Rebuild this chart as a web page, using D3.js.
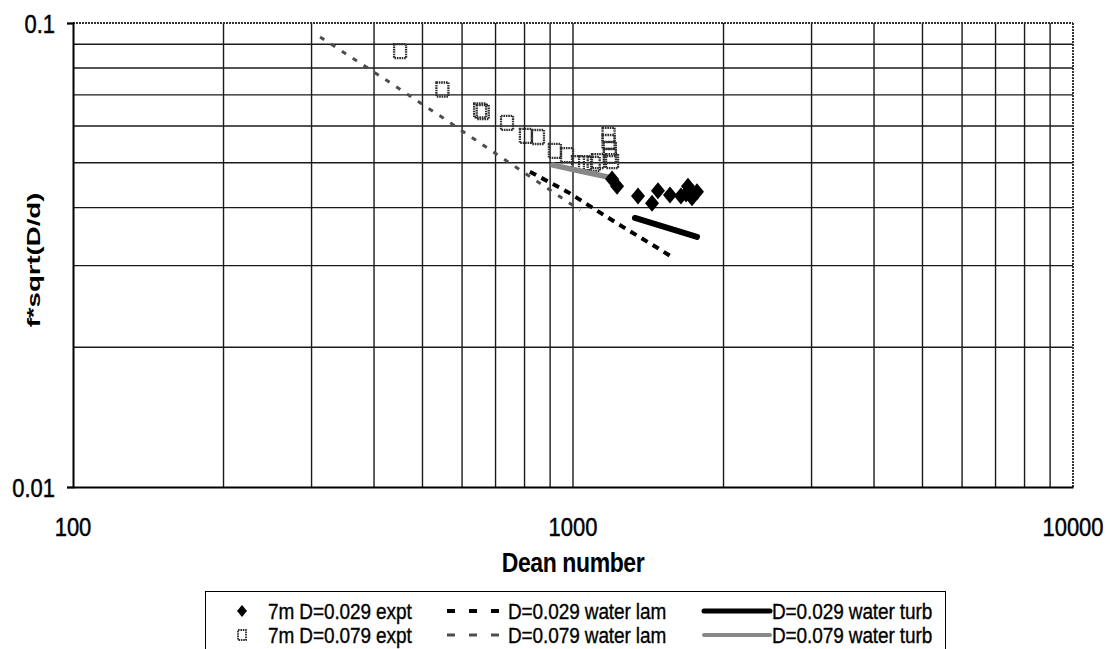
<!DOCTYPE html>
<html>
<head>
<meta charset="utf-8">
<script src="https://cdn.jsdelivr.net/npm/d3@7"></script>
<style>
  html, body { margin: 0; padding: 0; background: #fff; }
  svg { display: block; font-family: "Liberation Sans", Arial, sans-serif; }
</style>
</head>
<body>
<svg id="chart" width="1114" height="649"></svg>
<script>
// Experimental runs, D = 0.029 (filled diamonds)
const dean029Expt = [1197, 1225, 1349, 1439, 1479, 1563, 1644, 1683, 1698, 1730, 1770];
const f029Expt    = [0.0461, 0.0445, 0.0424, 0.0409, 0.0435, 0.0426, 0.0424, 0.0428, 0.0445, 0.0420, 0.0433];

// Experimental runs, D = 0.079 (open squares)
const dean079Expt = [451, 548, 652, 660, 738, 805, 851, 920, 973, 1023, 1057, 1100, 1122, 1178, 1178, 1185, 1185, 1197];
const f079Expt    = [0.0870, 0.0719, 0.0648, 0.0643, 0.0609, 0.0571, 0.0568, 0.0530, 0.0519, 0.0499, 0.0499, 0.0497, 0.0504, 0.0574, 0.0554, 0.0535, 0.0517, 0.0504];

// Water, laminar correlations
const dean029Lam = [820, 977, 1230, 1466, 1563];
const f029Lam    = [0.0478, 0.0432, 0.0369, 0.0329, 0.0315];
const dean079Lam = [312, 417, 550, 708, 1033];
const f079Lam    = [0.0933, 0.0761, 0.0624, 0.0519, 0.0395];

// Water, turbulent correlations
const dean029Turb = [1330, 1770];
const f029Turb    = [0.0380, 0.0346];
const dean079Turb = [912, 1050, 1202];
const f079Turb    = [0.0494, 0.0478, 0.0463];

// Axis ticks and grid
const xTickLabels = [100, 1000, 10000];
const yTickLabels = [0.01, 0.1];
const xGrid = [200, 300, 400, 500, 600, 700, 800, 900, 1000, 2000, 3000, 4000, 5000, 6000, 7000, 8000, 9000];
const yGrid = [0.02, 0.03, 0.04, 0.05, 0.06, 0.07, 0.08, 0.09];

const legendLabels = [
  "7m D=0.029 expt", "D=0.029 water lam", "D=0.029 water turb",
  "7m D=0.079 expt", "D=0.079 water lam", "D=0.079 water turb"
];

(function () {
const zip = (a, b) => a.map((v, i) => [v, b[i]]);
// all lettering is drawn slightly taller than wide
const STRETCH = 1.2;

const svg = d3.select("#chart");
const pLeft = 73, pRight = 1073, pTop = 23, pBottom = 487;

const x = d3.scaleLog().domain([100, 10000]).range([pLeft, pRight]);
const y = d3.scaleLog().domain([0.01, 0.1]).range([pBottom, pTop]);

// grid lines
const grid = svg.append("g");
grid.selectAll("line.gx").data(xGrid).join("line").attr("class", "gx")
  .attr("x1", d => x(d)).attr("x2", d => x(d))
  .attr("y1", pTop).attr("y2", pBottom)
  .attr("stroke", "#1a1a1a").attr("stroke-width", 1.4);
grid.selectAll("line.gy").data(yGrid).join("line").attr("class", "gy")
  .attr("x1", pLeft).attr("x2", pRight)
  .attr("y1", d => y(d)).attr("y2", d => y(d))
  .attr("stroke", "#1a1a1a").attr("stroke-width", 1.4);

// plot frame: top and right edges are dotted grey
svg.append("line").attr("x1", pLeft).attr("x2", pRight).attr("y1", pTop).attr("y2", pTop)
  .attr("stroke", "#333").attr("stroke-width", 2).attr("stroke-dasharray", "2,1");
svg.append("line").attr("x1", pRight).attr("x2", pRight).attr("y1", pTop).attr("y2", pBottom)
  .attr("stroke", "#333").attr("stroke-width", 2).attr("stroke-dasharray", "2,1");

// axes
const yAxis = d3.axisLeft(y).tickValues(yTickLabels).tickSize(6).tickFormat("");
svg.append("g").attr("transform", `translate(${pLeft},0)`).call(yAxis)
  .call(g => g.select(".domain").attr("stroke", "#000").attr("stroke-width", 2))
  .call(g => g.selectAll(".tick line").attr("stroke", "#000").attr("stroke-width", 1.5));
const xAxis = d3.axisBottom(x).tickValues(xTickLabels).tickSize(0).tickFormat("");
svg.append("g").attr("transform", `translate(0,${pBottom})`).call(xAxis)
  .call(g => g.select(".domain").attr("stroke", "#000").attr("stroke-width", 2));

// tick labels
svg.append("g").selectAll("text").data(yTickLabels).join("text")
  .attr("transform", d => `translate(55,${y(d)}) scale(1,${STRETCH})`)
  .attr("dy", "0.36em")
  .attr("text-anchor", "end").attr("font-size", 22)
  .attr("stroke", "#000").attr("stroke-width", 0.4)
  .text(d => String(d));
svg.append("g").selectAll("text").data(xTickLabels).join("text")
  .attr("transform", d => `translate(${x(d)},536) scale(1,${STRETCH})`)
  .attr("text-anchor", "middle").attr("font-size", 22)
  .attr("stroke", "#000").attr("stroke-width", 0.4)
  .text(d => String(d));

// axis titles
svg.append("text").attr("transform", `translate(573,572) scale(1,${STRETCH})`)
  .attr("text-anchor", "middle")
  .attr("font-size", 23).attr("font-weight", "bold").attr("letter-spacing", -0.4)
  .text("Dean number");
svg.append("text").attr("transform", "translate(40,260) rotate(-90) scale(1.45,1)")
  .attr("text-anchor", "middle").attr("font-size", 19).attr("font-weight", "bold")
  .text("f*sqrt(D/d)");

const line = d3.line().x(d => x(d[0])).y(d => y(d[1]));
const plot = svg.append("g");

// laminar correlations (dashed)
plot.append("path").datum(zip(dean079Lam, f079Lam)).attr("d", line)
  .attr("fill", "none").attr("stroke", "#4d4d4d").attr("stroke-width", 3)
  .attr("stroke-dasharray", "5,8");
plot.append("path").datum(zip(dean029Lam, f029Lam)).attr("d", line)
  .attr("fill", "none").attr("stroke", "#000").attr("stroke-width", 4)
  .attr("stroke-dasharray", "7,6");

// open squares, D = 0.079
const sqW = 12, sqH = 14;
plot.selectAll("rect.sq").data(zip(dean079Expt, f079Expt)).join("rect").attr("class", "sq")
  .attr("x", d => x(d[0]) - sqW / 2).attr("y", d => y(d[1]) - sqH / 2)
  .attr("width", sqW).attr("height", sqH)
  .attr("fill", "none").attr("stroke", "#2e2e2e").attr("stroke-width", 2.3)
  .attr("stroke-dasharray", "1.6,0.8");

// turbulent correlations (solid thick)
plot.append("path").datum(zip(dean079Turb, f079Turb)).attr("d", line)
  .attr("fill", "none").attr("stroke", "#888").attr("stroke-width", 5.5)
  .attr("stroke-linecap", "round");
plot.append("path").datum(zip(dean029Turb, f029Turb)).attr("d", line)
  .attr("fill", "none").attr("stroke", "#000").attr("stroke-width", 6)
  .attr("stroke-linecap", "round");

// filled diamonds, D = 0.029
const diamond = (w, h) => `M0,${-h / 2}L${w / 2},0L0,${h / 2}L${-w / 2},0Z`;
plot.selectAll("path.dm").data(zip(dean029Expt, f029Expt)).join("path").attr("class", "dm")
  .attr("transform", d => `translate(${x(d[0])},${y(d[1])})`)
  .attr("d", diamond(14, 17)).attr("fill", "#000");

// legend
const lg = svg.append("g");
lg.append("rect").attr("x", 205.5).attr("y", 591.5).attr("width", 740).attr("height", 60)
  .attr("fill", "#fff").attr("stroke", "#000").attr("stroke-width", 1);
const rowY = [611, 635];
const textX = [268, 508, 772];
lg.selectAll("text").data(legendLabels).join("text")
  .attr("transform", (d, i) => `translate(${textX[i % 3]},${rowY[Math.floor(i / 3)]}) scale(1,${STRETCH})`)
  .attr("dy", "0.36em").attr("font-size", 19).attr("letter-spacing", -0.1)
  .attr("stroke", "#000").attr("stroke-width", 0.3)
  .text(d => d);
lg.append("path").attr("transform", `translate(242,${rowY[0]})`).attr("d", diamond(10, 12)).attr("fill", "#000");
lg.append("rect").attr("x", 238).attr("y", rowY[1] - 5).attr("width", 8).attr("height", 10)
  .attr("fill", "none").attr("stroke", "#2e2e2e").attr("stroke-width", 1.8).attr("stroke-dasharray", "1.6,0.8");
lg.append("line").attr("x1", 447).attr("x2", 502).attr("y1", rowY[0]).attr("y2", rowY[0])
  .attr("stroke", "#000").attr("stroke-width", 4).attr("stroke-dasharray", "8,14");
lg.append("line").attr("x1", 447).attr("x2", 502).attr("y1", rowY[1]).attr("y2", rowY[1])
  .attr("stroke", "#4d4d4d").attr("stroke-width", 3).attr("stroke-dasharray", "8,14");
lg.append("line").attr("x1", 704).attr("x2", 770).attr("y1", rowY[0]).attr("y2", rowY[0])
  .attr("stroke", "#000").attr("stroke-width", 5).attr("stroke-linecap", "round");
lg.append("line").attr("x1", 704).attr("x2", 770).attr("y1", rowY[1]).attr("y2", rowY[1])
  .attr("stroke", "#888").attr("stroke-width", 4).attr("stroke-linecap", "round");
})();
</script>
</body>
</html>
